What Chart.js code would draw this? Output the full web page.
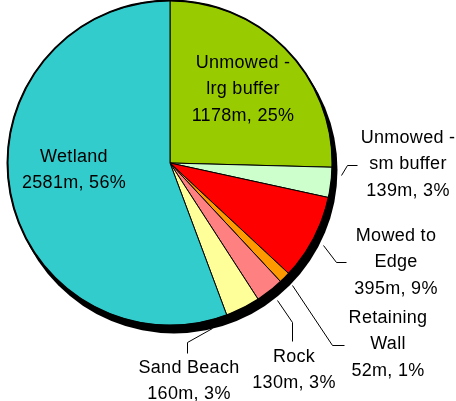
<!DOCTYPE html>
<html>
<head>
<meta charset="utf-8">
<script src="https://cdn.jsdelivr.net/npm/chart.js@4"></script>
<style>
  body { margin: 0; background: #fff; }
  #wrap { width: 456px; height: 401px; position: relative; }
</style>
</head>
<body>
<div id="wrap"><canvas id="myChart"></canvas></div>
<script>
// shoreline length by type (m)
const categories = ["Unmowed - lrg buffer", "Unmowed - sm buffer", "Mowed to Edge", "Retaining Wall", "Rock", "Sand Beach", "Wetland"];
const lengths = [1178, 139, 395, 52, 130, 160, 2581];
const percents = [25, 3, 9, 1, 3, 3, 56];
const sliceColors = ["#99CC00", "#CCFFCC", "#FF0000", "#FF9900", "#FF8080", "#FFFF99", "#33CCCC"];

// label text lines (name lines, value line is added from the data)
const labelNames = [
    ["Unmowed -", "lrg buffer"],
    ["Unmowed -", "sm buffer"],
    ["Mowed to", "Edge"],
    ["Retaining", "Wall"],
    ["Rock"],
    ["Sand Beach"],
    ["Wetland"]
];

// where each label sits: x centre, y of first line, optional leader line
const labelLayout = [
    { x: 243, y: 63 },
    { x: 408, y: 138, leader: [[341, 175], [347, 165], [357, 165]] },
    { x: 396, y: 236, leader: [[323, 245], [336, 262], [346, 262]] },
    { x: 388, y: 318, leader: [[292, 285], [332, 345], [344, 345]] },
    { x: 294, y: 357, leader: [[277, 300], [292, 322], [292, 341]] },
    { x: 189, y: 368, leader: [[212, 328], [187, 342], [187, 353]] },
    { x: 74, y: 157 }
];

//shadow behind the pie and outer outline
const pieFrame = {
    id: "pieFrame",
    beforeDatasetsDraw(chart) {
        let arc = chart.getDatasetMeta(0).data[0];
        let ctx = chart.ctx;
        ctx.save();
        ctx.fillStyle = "#000";
        ctx.beginPath();
        ctx.arc(arc.x + 4, arc.y + 7, arc.outerRadius + 1, 0, Math.PI * 2);
        ctx.fill();
        ctx.restore();
    },
    afterDatasetsDraw(chart) {
        let arc = chart.getDatasetMeta(0).data[0];
        let ctx = chart.ctx;
        ctx.save();
        ctx.strokeStyle = "#000";
        ctx.lineWidth = 2;
        ctx.beginPath();
        ctx.arc(arc.x, arc.y, arc.outerRadius, 0, Math.PI * 2);
        ctx.stroke();
        ctx.restore();
    }
};

//labels with leader lines
const pieLabels = {
    id: "pieLabels",
    afterDraw(chart) {
        let ctx = chart.ctx;
        ctx.save();
        ctx.font = "18px 'Liberation Sans', Arial, sans-serif";
        ctx.letterSpacing = "0.3px";
        ctx.fillStyle = "#000";
        ctx.textAlign = "center";
        ctx.textBaseline = "middle";
        labelLayout.forEach((pos, i) => {
            let lines = labelNames[i].concat([lengths[i] + "m, " + percents[i] + "%"]);
            lines.forEach((txt, j) => {
                ctx.fillText(txt, pos.x, pos.y + j * 26.5);
            });
            if (pos.leader) {
                ctx.strokeStyle = "#000";
                ctx.lineWidth = 1;
                ctx.beginPath();
                pos.leader.forEach((p, k) => {
                    if (k == 0) ctx.moveTo(p[0] + 0.5, p[1] + 0.5);
                    else ctx.lineTo(p[0] + 0.5, p[1] + 0.5);
                });
                ctx.stroke();
            }
        });
        ctx.restore();
    }
};

let ctx = document.getElementById("myChart").getContext("2d");
let myChart = new Chart(ctx, {
    type: "pie",
    data: {
        labels: categories,
        datasets: [{
            data: lengths,
            backgroundColor: sliceColors,
            borderColor: "#000",
            borderWidth: 1
        }]
    },
    options: {
        responsive: true,
        maintainAspectRatio: false,
        animation: false,
        layout: { padding: { left: 7, top: 0, right: 123, bottom: 75 } },
        plugins: {
            legend: { display: false },
            tooltip: { enabled: false }
        }
    },
    plugins: [pieFrame, pieLabels]
});
</script>
</body>
</html>
